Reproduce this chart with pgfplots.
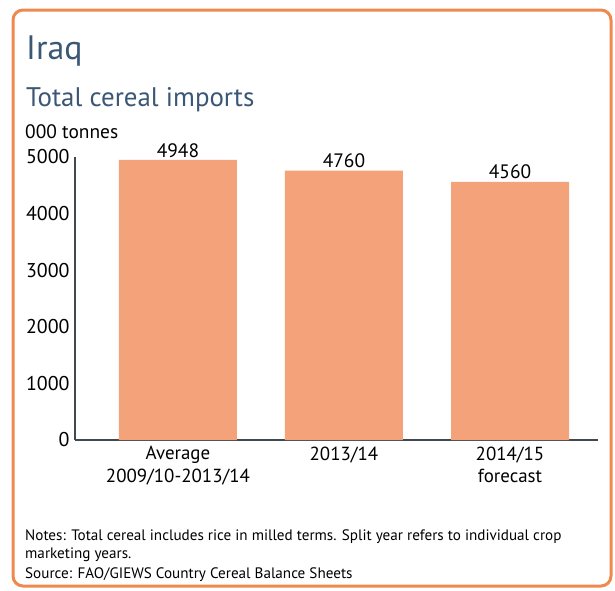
\documentclass[border=0pt]{standalone}
\usepackage{pgfplots}
\pgfplotsset{compat=1.18}
\usepackage{fontspec}
\setmainfont{PT Sans}
\definecolor{barc}{HTML}{F4A27A}
\definecolor{frame}{HTML}{EE8A4E}
\definecolor{titc}{HTML}{3A5876}
\definecolor{axc}{HTML}{404850}
\begin{document}
\begin{tikzpicture}
\path[use as bounding box] (0,0) rectangle (615bp,-591bp);
\draw[frame, line width=3bp, rounded corners=10bp, fill=white] (13bp,-10bp) rectangle (611bp,-586bp);
\node[anchor=base west, text=titc, font=\fontsize{34}{38}\selectfont, inner sep=0] at (26bp,-59bp) {Iraq};
\node[anchor=base west, text=titc, font=\fontsize{27}{30}\selectfont, inner sep=0] at (26bp,-106bp) {Total cereal imports};
\node[anchor=base west, font=\fontsize{19.5}{22}\selectfont, inner sep=0] at (25bp,-138bp) {000 tonnes};
\begin{axis}[
  at={(75bp,-440bp)}, anchor=south west,
  scale only axis, width=523bp, height=283bp,
  xmin=-0.62, xmax=2.53, ymin=0, ymax=5000,
  axis x line=bottom, axis y line=left,
  axis line style={axc, line width=1.6bp, -},
  ytick={0,1000,2000,3000,4000,5000},
  major tick length=0pt,
  scaled y ticks=false,
  yticklabel style={font=\fontsize{20}{22}\selectfont, xshift=-2bp},
  /pgf/number format/assume math mode=true,
  /pgf/number format/set thousands separator={},
  xtick={0,1,2},
  xticklabels={{Average\\2009/10-2013/14},{2013/14},{2014/15\\forecast}},
  xticklabel style={font=\fontsize{19}{23}\selectfont, align=center, yshift=-3bp},
  ybar, bar width=118bp,
  nodes near coords,
  every node near coord/.append style={font=\fontsize{19.5}{22}\selectfont, text=black, yshift=1bp, inner sep=1.5bp},
  clip=false,
]
\addplot[fill=barc, draw=none] coordinates {(0,4948) (1,4760) (2,4560)};
\end{axis}
\node[anchor=base west, font=\fontsize{15.2}{17}\selectfont, inner sep=0] at (25bp,-540bp) {Notes: Total cereal includes rice in milled terms. Split year refers to individual crop};
\node[anchor=base west, font=\fontsize{15.2}{17}\selectfont, inner sep=0] at (25bp,-558bp) {marketing years.};
\node[anchor=base west, font=\fontsize{15.2}{17}\selectfont, inner sep=0] at (25bp,-578bp) {Source: FAO/GIEWS Country Cereal Balance Sheets};
\end{tikzpicture}
\end{document}
